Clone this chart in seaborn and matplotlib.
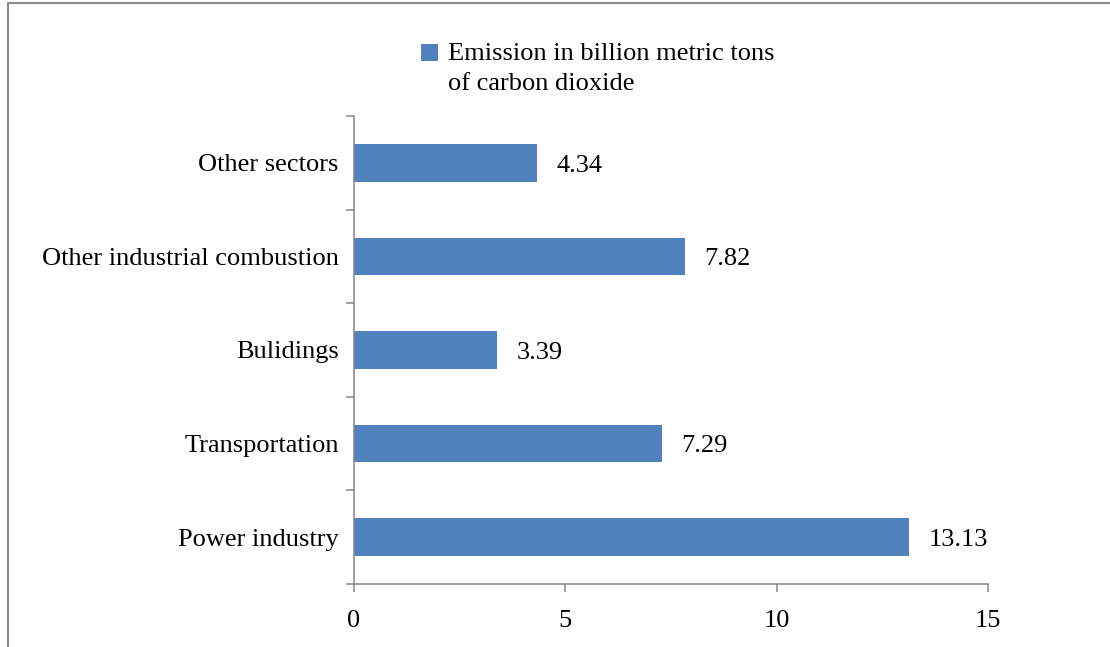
import matplotlib
matplotlib.use("Agg")
import matplotlib.pyplot as plt
from matplotlib.lines import Line2D
from matplotlib.patches import Rectangle
from matplotlib.legend_handler import HandlerPatch
from matplotlib.ticker import FixedLocator
import seaborn as sns
import pandas as pd

sectors = ["Other sectors", "Other industrial combustion", "Bulidings",
           "Transportation", "Power industry"]
emissions = [4.34, 7.82, 3.39, 7.29, 13.13]
series_name = "Emission in billion metric tons\nof carbon dioxide"
x_ticks = [0, 5, 10, 15]

sns.set_theme(style="white")
plt.rcParams["font.family"] = ["Liberation Serif", "DejaVu Serif"]
plt.rcParams["text.color"] = "black"

BAR = "#4F81BD"
AXIS = "#868686"
FS = 19

df = pd.DataFrame({"sector": sectors, "value": emissions, "series": series_name})

fig = plt.figure(figsize=(11.10, 6.47), dpi=100)
ax = fig.add_axes([0.3189, 0.0974, 0.5712, 0.7233])

sns.barplot(data=df, x="value", y="sector", hue="series", order=sectors,
            palette=[BAR], saturation=1, width=0.4, orient="h", ax=ax,
            legend=True, linewidth=0)

ax.set_xlim(0, 15)
ax.set_ylim(len(sectors) - 0.5, -0.5)
ax.set_xticks(x_ticks)
ax.set_xticklabels([str(t) for t in x_ticks], fontsize=FS, color="black")
ax.set_xlabel("")
ax.set_ylabel("")
ax.tick_params(axis="y", which="major", length=0, pad=11, labelsize=FS,
               labelcolor="black")
ax.yaxis.set_minor_locator(FixedLocator([i - 0.5 for i in range(len(sectors) + 1)]))
ax.tick_params(axis="y", which="minor", left=True, length=6, width=1.1,
               color=AXIS)
ax.tick_params(axis="x", which="major", bottom=True, length=6, width=1.1,
               color=AXIS, pad=13)

for side in ("top", "right"):
    ax.spines[side].set_visible(False)
for side in ("left", "bottom"):
    ax.spines[side].set_color(AXIS)
    ax.spines[side].set_linewidth(1.1)

# value labels at the end of each bar
for i, v in enumerate(emissions):
    ax.annotate(f"{v:.2f}", xy=(v, i), xytext=(14, -2), textcoords="offset points",
                ha="left", va="center", fontsize=FS, color="black")


class RaisedSquare(HandlerPatch):
    def create_artists(self, legend, orig_handle, xdescent, ydescent, width,
                       height, fontsize, trans):
        p = Rectangle((-xdescent, -ydescent + 11.4), width, width,
                      facecolor=BAR, edgecolor="none", transform=trans)
        return [p]


handles, labels = ax.get_legend_handles_labels()
leg = ax.legend(handles, labels, loc="upper left", bbox_to_anchor=(0.379, 0.933),
                bbox_transform=fig.transFigure, frameon=False, fontsize=FS,
                handlelength=0.65, handleheight=0.65, handletextpad=0.4,
                borderpad=0, borderaxespad=0,
                handler_map={Rectangle: RaisedSquare()})
for t in leg.get_texts():
    t.set_linespacing(1.45)
    t.set_color("black")

# outer frame lines along the top and left edges
fig.add_artist(Line2D([0.0072, 1.0], [0.9954, 0.9954], transform=fig.transFigure,
                      color="#8c8c8c", linewidth=1.5))
fig.add_artist(Line2D([0.0072, 0.0072], [0.0, 0.9954], transform=fig.transFigure,
                      color="#8c8c8c", linewidth=1.5))

fig.savefig("out.png", dpi=100)
